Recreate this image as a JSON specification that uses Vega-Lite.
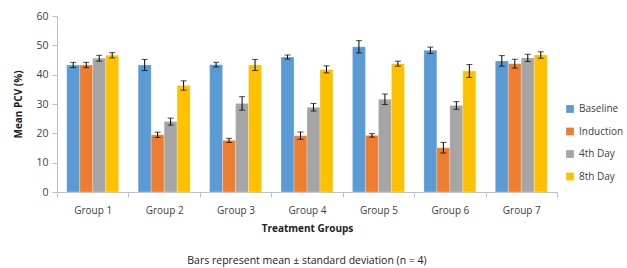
{
  "$schema": "https://vega.github.io/schema/vega-lite/v6.json",
  "width": 500,
  "height": 176,
  "autosize": "none",
  "padding": {"left": 57, "top": 16, "right": 70, "bottom": 76},
  "background": "white",
  "config": {"view": {"stroke": null}, "font": "Open Sans", "axisY": {"tickCount": 6}},
  "title": {"text": "Bars represent mean ± standard deviation (n = 4)", "orient": "bottom", "anchor": "middle", "fontSize": 10.5, "fontWeight": "normal", "font": "Open Sans", "color": "#222222", "offset": 23},
  "data": {"values": [
    {"group": "Group 1", "day": "Baseline", "mean": 43.3, "lo": 42.4, "hi": 44.2},
    {"group": "Group 1", "day": "Induction", "mean": 43.3, "lo": 42.4, "hi": 44.2},
    {"group": "Group 1", "day": "4th Day", "mean": 45.6, "lo": 44.6, "hi": 46.6},
    {"group": "Group 1", "day": "8th Day", "mean": 46.6, "lo": 45.7, "hi": 47.5},
    {"group": "Group 2", "day": "Baseline", "mean": 43.3, "lo": 41.4, "hi": 45.2},
    {"group": "Group 2", "day": "Induction", "mean": 19.5, "lo": 18.6, "hi": 20.4},
    {"group": "Group 2", "day": "4th Day", "mean": 24.0, "lo": 22.8, "hi": 25.2},
    {"group": "Group 2", "day": "8th Day", "mean": 36.3, "lo": 34.7, "hi": 37.9},
    {"group": "Group 3", "day": "Baseline", "mean": 43.4, "lo": 42.6, "hi": 44.2},
    {"group": "Group 3", "day": "Induction", "mean": 17.6, "lo": 16.9, "hi": 18.3},
    {"group": "Group 3", "day": "4th Day", "mean": 30.2, "lo": 27.9, "hi": 32.5},
    {"group": "Group 3", "day": "8th Day", "mean": 43.3, "lo": 41.4, "hi": 45.2},
    {"group": "Group 4", "day": "Baseline", "mean": 46.0, "lo": 45.3, "hi": 46.7},
    {"group": "Group 4", "day": "Induction", "mean": 19.2, "lo": 17.95, "hi": 20.45},
    {"group": "Group 4", "day": "4th Day", "mean": 28.9, "lo": 27.6, "hi": 30.2},
    {"group": "Group 4", "day": "8th Day", "mean": 41.8, "lo": 40.6, "hi": 43.0},
    {"group": "Group 5", "day": "Baseline", "mean": 49.5, "lo": 47.4, "hi": 51.6},
    {"group": "Group 5", "day": "Induction", "mean": 19.3, "lo": 18.7, "hi": 19.9},
    {"group": "Group 5", "day": "4th Day", "mean": 31.6, "lo": 29.8, "hi": 33.4},
    {"group": "Group 5", "day": "8th Day", "mean": 43.75, "lo": 42.9, "hi": 44.6},
    {"group": "Group 6", "day": "Baseline", "mean": 48.3, "lo": 47.2, "hi": 49.4},
    {"group": "Group 6", "day": "Induction", "mean": 15.1, "lo": 13.3, "hi": 16.9},
    {"group": "Group 6", "day": "4th Day", "mean": 29.5, "lo": 28.2, "hi": 30.8},
    {"group": "Group 6", "day": "8th Day", "mean": 41.25, "lo": 39.05, "hi": 43.45},
    {"group": "Group 7", "day": "Baseline", "mean": 44.7, "lo": 42.9, "hi": 46.5},
    {"group": "Group 7", "day": "Induction", "mean": 43.75, "lo": 42.25, "hi": 45.25},
    {"group": "Group 7", "day": "4th Day", "mean": 45.7, "lo": 44.45, "hi": 46.95},
    {"group": "Group 7", "day": "8th Day", "mean": 46.7, "lo": 45.6, "hi": 47.8}
  ]},
  "encoding": {
    "x": {"field": "group", "type": "nominal", "scale": {"paddingInner": 0, "paddingOuter": 0},
      "axis": {"title": "Treatment Groups", "labelAngle": 0, "tickBand": "extent", "tickSize": 5, "tickColor": "#bfbfbf", "domainColor": "#bfbfbf", "labelFontSize": 10, "labelColor": "#404040", "labelPadding": 8, "titleFontSize": 10, "titleFontWeight": "bold", "titleColor": "#222222", "titlePadding": 8, "labelFont": "Open Sans", "titleFont": "Open Sans"}},
    "xOffset": {"field": "day", "type": "nominal", "sort": ["Baseline", "Induction", "4th Day", "8th Day"], "scale": {"paddingInner": 0, "paddingOuter": 0.75}}
  },
  "layer": [
    {
      "mark": {"type": "bar", "stroke": "white", "strokeOpacity": 0.5, "strokeWidth": 0.5},
      "encoding": {
        "y": {"field": "mean", "type": "quantitative", "scale": {"domain": [0, 60]},
          "axis": {"title": "Mean PCV (%)", "grid": false, "tickSize": 5, "tickColor": "#bfbfbf", "domainColor": "#bfbfbf", "labelFontSize": 10.5, "labelColor": "#404040", "labelPadding": 4, "titleFontSize": 10, "titleFontWeight": "bold", "titleColor": "#222222", "titlePadding": 12, "labelFont": "Open Sans", "titleFont": "Open Sans"}},
        "color": {"field": "day", "type": "nominal", "sort": ["Baseline", "Induction", "4th Day", "8th Day"],
          "scale": {"domain": ["Baseline", "Induction", "4th Day", "8th Day"], "range": ["#5B9BD5", "#ED7D31", "#A5A5A5", "#FFC000"]},
          "legend": {"title": null, "orient": "none", "legendX": 508, "legendY": 88, "symbolType": "square", "symbolSize": 60, "symbolStrokeWidth": 0, "labelFontSize": 10, "labelColor": "#404040", "labelFont": "Open Sans", "rowPadding": 12.5}}
      }
    },
    {
      "mark": {"type": "rule", "color": "black", "strokeWidth": 1},
      "encoding": {"y": {"field": "lo", "type": "quantitative"}, "y2": {"field": "hi"}}
    },
    {
      "mark": {"type": "tick", "color": "black", "thickness": 1, "size": 6},
      "encoding": {"y": {"field": "lo", "type": "quantitative"}}
    },
    {
      "mark": {"type": "tick", "color": "black", "thickness": 1, "size": 6},
      "encoding": {"y": {"field": "hi", "type": "quantitative"}}
    }
  ]
}
